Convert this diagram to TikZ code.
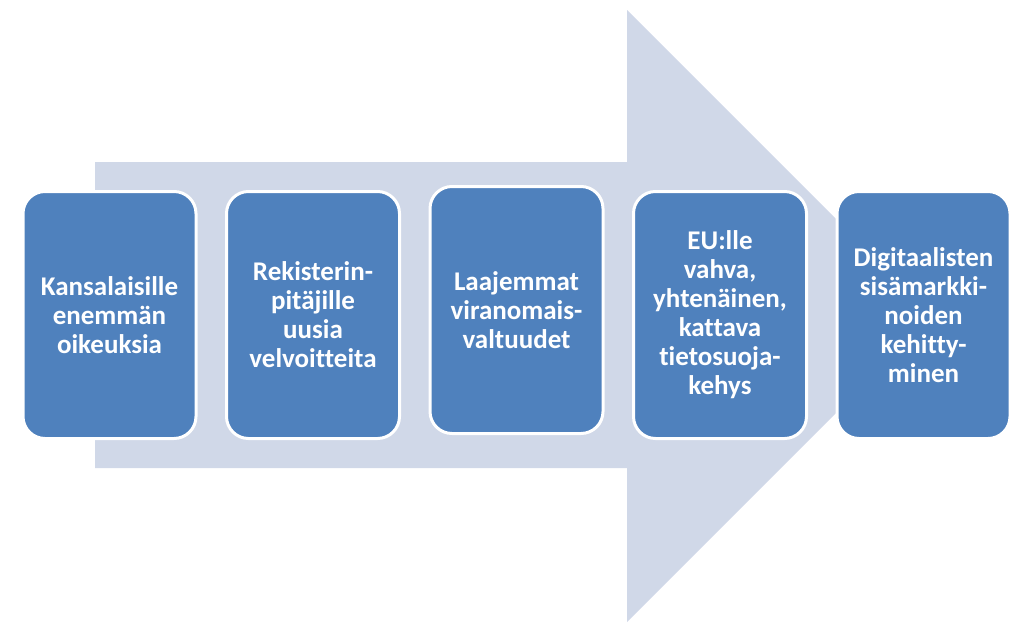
\documentclass[tikz,border=0pt]{standalone}
\usepackage{fontspec}
\setmainfont{Carlito}[Ligatures=NoCommon]
\usepackage{tikz}
\usetikzlibrary{positioning}
\definecolor{laatikko}{HTML}{4F81BD}
\definecolor{nuoli}{HTML}{D0D8E8}
\tikzstyle{vaihe} = [rectangle, rounded corners=22pt, draw=white, line width=3pt, fill=laatikko, text=white, font=\fontsize{27}{29}\selectfont\bfseries, align=center, minimum width=173pt, minimum height=247pt, text width=170pt, inner sep=0pt]

\begin{document}
\begin{tikzpicture}[x=1pt,y=-1pt,node distance=27.5pt]
\useasboundingbox (0,0) rectangle (1024,632);
\fill[nuoli] (95,162) -- (627,162) -- (627,10) -- (933,316) -- (627,622) -- (627,468) -- (95,468) -- cycle;
\node[vaihe] (kansalaiset) at (109.5,315) {Kansalaisille\\enemmän\\oikeuksia};
\node[vaihe, right=of kansalaiset] (rekisteri) {Rekisterin-\\pitäjille\\uusia\\velvoitteita};
\node[vaihe, right=of rekisteri, yshift=5pt] (valtuudet) {Laajemmat\\viranomais-\\valtuudet};
\node[vaihe, right=of valtuudet, yshift=-5pt] (kehys) {EU:lle\\vahva,\\yhtenäinen,\\kattava\\tietosuoja-\\kehys};
\node[vaihe, right=of kehys] (sisamarkkinat) {Digitaalisten\\sisämarkki-\\noiden\\kehitty-\\minen};
\end{tikzpicture}
\end{document}
